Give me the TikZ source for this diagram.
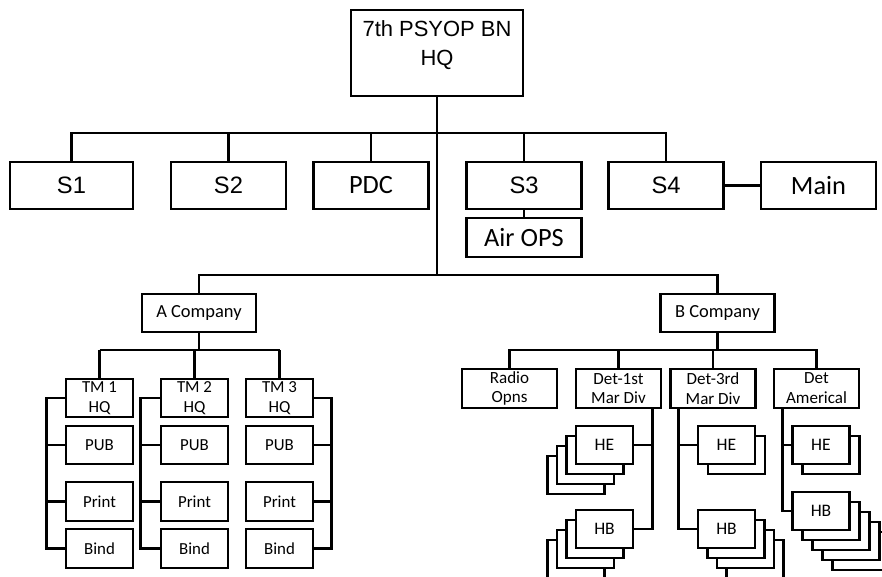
\documentclass[tikz,border=0pt]{standalone}
\usepackage{fontspec}
\setmainfont{Carlito}
\newfontfamily\arialfont{Liberation Sans}
\usetikzlibrary{calc,backgrounds}
\newcommand\pxl{0.02cm}
\tikzset{box/.style={draw,line width=1.5pt,fill=white,inner sep=0pt,align=center},
 top/.style={box,font=\arialfont\fontsize{12.5}{16.3}\selectfont,minimum width=172*\pxl,minimum height=86*\pxl,text depth=11pt},
 staff/.style={box,minimum width=115*\pxl,minimum height=47*\pxl},
 sname/.style={staff,font=\arialfont\fontsize{13.5}{16}\selectfont},
 cname/.style={staff,font=\fontsize{15}{18}\selectfont},
 company/.style={box,minimum width=114*\pxl,minimum height=38*\pxl,font=\fontsize{10.5}{12}\selectfont},
 team/.style={box,minimum width=67*\pxl,minimum height=38*\pxl,font=\fontsize{9.6}{11.3}\selectfont},
 det/.style={box,minimum width=85*\pxl,minimum height=39*\pxl,font=\fontsize{9.7}{11.3}\selectfont},
 unit/.style={box,minimum width=57*\pxl,minimum height=38*\pxl,font=\fontsize{10}{12}\selectfont},
 link/.style={line width=1.5pt}}

\begin{document}
\begin{tikzpicture}[x=0.02cm,y=-0.02cm]
\useasboundingbox (0,0) rectangle (882,576);

\node[top] (hq) at (437,53) {7th PSYOP BN\\HQ};

\node[sname,minimum width=123*\pxl] (s1) at (71.5,185.5) {S1};
\node[sname] (s2) at (228.5,185.5) {S2};
\node[cname] (pdc) at (371,185.5) {PDC};
\node[sname] (s3) at (524,185.5) {S3};
\node[sname] (s4) at (666,185.5) {S4};
\node[cname] (main) at (818.5,185.5) {Main};
\node[cname,minimum height=39*\pxl] (airops) at (524,237.5) {Air OPS};

\coordinate (staffbus) at (437,133);
\coordinate (cobus) at (437,275);

\draw[link] (hq.south) -- (hq.south |- cobus);
\draw[link] (s1.north) -- (s1.north |- staffbus) -- (s4.north |- staffbus) -- (s4.north);
\foreach \n in {s2,pdc,s3} \draw[link] (\n.north) -- (\n.north |- staffbus);
\draw[link] (s4) -- (main);
\draw[link] (s3) -- (airops);

% companies
\node[company] (acomp) at (199,313) {A Company};
\node[company] (bcomp) at (717.5,313) {B Company};
\draw[link] (acomp.north) -- (acomp.north |- cobus) -- (bcomp.north |- cobus) -- (bcomp.north);

% A company teams
\coordinate (abus) at (199,350);
\draw[link] (acomp.south) -- (abus);
\foreach \i/\x in {1/99.5,2/194.5,3/279.5} {
  \node[team] (tm\i) at (\x,398) {TM \i\\HQ};
  \node[team] (pub\i) at (\x,445) {PUB};
  \node[team,minimum height=39*\pxl] (print\i) at (\x,501.5) {Print};
  \node[team,minimum height=39*\pxl] (bind\i) at (\x,548.5) {Bind};
  \draw[link] (tm\i.north) -- (tm\i.north |- abus);
}
\draw[link] (tm1.north |- abus) -- (tm3.north |- abus);
\foreach \i/\s/\d in {1/west/-18,2/west/-19,3/east/17} {
  \draw[link] (tm\i.\s) -- ++(\d,0) |- (bind\i.\s);
  \draw[link] (pub\i.\s) -- ++(\d,0);
  \draw[link] (print\i.\s) -- ++(\d,0);
}

% B company detachments
\coordinate (bbus) at (717.5,350);
\draw[link] (bcomp.south) -- (bbus);
\node[det,minimum width=95*\pxl] (radio) at (509.5,388.5) {Radio\\Opns};
\node[det] (det1) at (618.5,388.5) {Det-1st\\Mar Div};
\node[det] (det3) at (713,388.5) {Det-3rd\\Mar Div};
\node[det] (detam) at (816.5,388.5) {Det\\Americal};
\draw[link] (radio.north) -- (radio.north |- bbus) -- (detam.north |- bbus) -- (detam.north);
\foreach \n in {det1,det3} \draw[link] (\n.north) -- (\n.north |- bbus);

\node[unit] (he1) at (604.5,445) {HE};
\node[unit] (hb1) at (604.5,529) {HB};
\node[unit] (he3) at (726.5,445) {HE};
\node[unit] (hb3) at (726.5,529) {HB};
\node[unit] (heam) at (821,445) {HE};
\node[unit] (hbam) at (821,511) {HB};

% stacked copies
\begin{scope}[on background layer]
\foreach \k in {3,2,1} {
  \node[unit] at ($(he1)+(-9.5*\k,10*\k)$) {};
  \node[unit] at ($(hb1)+(-9.5*\k,10*\k)$) {};
  \node[unit] at ($(hb3)+(9.5*\k,10*\k)$) {};
}
\foreach \k in {4,3,2,1} \node[unit] at ($(hbam)+(10*\k,10*\k)$) {};
\node[unit] at ($(he3)+(10,10)$) {};
\node[unit] at ($(heam)+(10,10)$) {};
\end{scope}

\coordinate (rail1) at ($(det1.south east)+(-10,0)$);
\coordinate (rail3) at ($(det3.south west)+(9,0)$);
\coordinate (railam) at ($(detam.south west)+(10,0)$);
\draw[link] (rail1) |- (hb1.east);
\draw[link] (he1.east) -- (he1.east -| rail1);
\draw[link] (rail3) |- (hb3.west);
\draw[link] (he3.west) -- (he3.west -| rail3);
\draw[link] (railam) |- (hbam.west);
\draw[link] (heam.west) -- (heam.west -| railam);
\end{tikzpicture}
\end{document}
